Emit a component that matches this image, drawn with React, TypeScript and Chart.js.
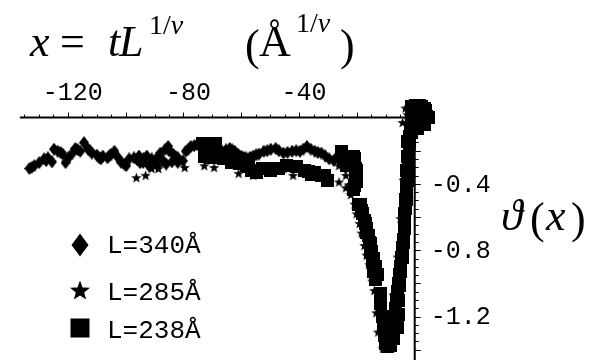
import React, { useEffect, useRef } from "react";
import { Chart, registerables } from "chart.js";

Chart.register(...registerables);

// ---- data (x = t L^{1/nu}, y = theta(x)) ----
const seriesNames = ["L=340Å", "L=285Å", "L=238Å"];
const xTickLabels = [-120, -80, -40];
const yTickLabels = [-0.4, -0.8, -1.2];

const L340: [number, number][] = [
  [-133.3, -0.307], [-132.5, -0.3], [-131.6, -0.29], [-129.9, -0.272], [-128.2, -0.249],
  [-127.5, -0.26], [-126.9, -0.243], [-125.5, -0.267], [-124.8, -0.191], [-123.5, -0.203],
  [-122.5, -0.21], [-121.8, -0.22], [-120.8, -0.272], [-119.8, -0.243], [-118.4, -0.214],
  [-117.4, -0.186], [-116.5, -0.195], [-115.7, -0.203], [-114.4, -0.151], [-113.0, -0.191],
  [-112.3, -0.2], [-111.7, -0.214], [-110.0, -0.226], [-109.3, -0.24], [-108.6, -0.249],
  [-107.9, -0.232], [-106.3, -0.243], [-105.6, -0.23], [-104.9, -0.22], [-103.9, -0.203],
  [-102.7, -0.24], [-101.5, -0.272], [-100.5, -0.28], [-99.8, -0.29], [-98.8, -0.249],
  [-97.1, -0.243], [-96.0, -0.255], [-95.4, -0.232], [-95.0, -0.272], [-94.0, -0.27],
  [-93.8, -0.245], [-92.7, -0.232], [-92.0, -0.29], [-91.0, -0.249], [-90.0, -0.272],
  [-89.0, -0.24], [-89.0, -0.29], [-88.0, -0.214], [-87.0, -0.261], [-86.3, -0.191],
  [-86.0, -0.28], [-85.3, -0.174], [-85.0, -0.2], [-84.0, -0.267], [-83.6, -0.22],
  [-82.7, -0.235], [-82.0, -0.27], [-81.9, -0.243], [-80.2, -0.261], [-79.2, -0.203],
  [-78.3, -0.19], [-77.5, -0.174], [-76.3, -0.17], [-75.2, -0.162], [-74.0, -0.165],
  [-72.8, -0.174], [-71.0, -0.18], [-69.4, -0.186], [-68.0, -0.195], [-66.7, -0.203],
  [-65.3, -0.195], [-64.0, -0.186], [-63.1, -0.195], [-62.3, -0.203], [-61.2, -0.22],
  [-60.0, -0.232], [-59.1, -0.24], [-58.3, -0.243], [-57.0, -0.24], [-55.9, -0.232],
  [-54.9, -0.225], [-53.9, -0.22], [-52.2, -0.203], [-51.0, -0.2], [-49.8, -0.191],
  [-48.1, -0.186], [-47.0, -0.2], [-45.4, -0.214], [-44.0, -0.21], [-42.4, -0.203],
  [-41.0, -0.2], [-39.7, -0.203], [-38.5, -0.19], [-37.3, -0.174], [-36.0, -0.19],
  [-34.6, -0.203], [-33.5, -0.21], [-32.3, -0.214], [-31.0, -0.23], [-29.6, -0.249],
  [-28.0, -0.26], [-27.0, -0.24], [-24.0, -0.3], [-19.0, -0.55], [-15.5, -0.8],
  [-12.5, -1.1], [-9.5, -1.36], [-6.0, -1.05], [-4.0, -0.7], [-2.6, -0.35],
  [-1.0, -0.05], [2.5, 0.03],
];

const L285: [number, number][] = [
  [-96.3, -0.362], [-93.1, -0.348], [-91.0, -0.307], [-88.7, -0.307], [-86.3, -0.272],
  [-79.6, -0.301], [-72.8, -0.29], [-69.4, -0.301], [-60.9, -0.336], [-55.9, -0.348],
  [-45.4, -0.307], [-42.1, -0.348], [-34.6, -0.33], [-30.2, -0.243], [-26.2, -0.29],
  [-26.2, -0.388], [-23.8, -0.423], [-23.8, -0.348], [-22.8, -0.406], [-22.1, -0.464],
  [-20.8, -0.522], [-20.1, -0.58], [-19.1, -0.638], [-18.4, -0.696], [-17.4, -0.771],
  [-16.7, -0.829], [-15.7, -0.887], [-14.7, -0.986], [-14.0, -1.043], [-13.3, -1.177],
  [-12.7, -1.293], [-11.0, -1.391], [-8.6, -1.246], [-7.3, -1.072], [-5.9, -0.841],
  [-4.9, -0.609], [-3.9, -0.377], [-2.9, -0.174], [-4.2, -0.029], [-3.2, 0.058],
  [-2.5, 0.017],
];

const L238: [number, number][] = [
  [-73.5, -0.157], [-69.0, -0.157], [-72.8, -0.174], [-70.8, -0.174], [-72.8, -0.232],
  [-70.8, -0.243], [-71.8, -0.203], [-66.0, -0.249], [-65.4, -0.249], [-62.7, -0.261],
  [-60.6, -0.278], [-63.3, -0.272], [-58.3, -0.29], [-57.6, -0.296], [-55.2, -0.319],
  [-56.6, -0.319], [-54.9, -0.33], [-52.5, -0.307], [-51.2, -0.307], [-49.8, -0.319],
  [-48.5, -0.307], [-47.1, -0.307], [-44.4, -0.29], [-41.0, -0.296], [-38.0, -0.319],
  [-36.7, -0.325], [-35.6, -0.342], [-34.6, -0.33], [-32.3, -0.348], [-31.3, -0.348],
  [-30.2, -0.377], [-25.5, -0.203], [-25.2, -0.203], [-24.5, -0.249], [-23.5, -0.29],
  [-21.1, -0.232], [-20.8, -0.249], [-20.4, -0.307], [-20.1, -0.319], [-20.4, -0.365],
  [-20.1, -0.388], [-20.8, -0.412], [-21.1, -0.435],
  // descending branch
  [-19.4, -0.522], [-18.75, -0.522], [-18.4, -0.562], [-18.07, -0.58], [-17.4, -0.62],
  [-17.06, -0.638], [-16.7, -0.667], [-16.72, -0.696], [-16.0, -0.713], [-15.71, -0.754],
  [-15.4, -0.759], [-15.0, -0.806], [-15.37, -0.812], [-14.4, -0.852], [-14.7, -0.87],
  [-13.7, -0.899], [-14.36, -0.928], [-13.0, -0.945], [-13.7, -0.974], [-12.0, -1.061],
  [-11.99, -1.061], [-11.7, -1.107], [-11.99, -1.119], [-11.3, -1.2], [-10.98, -1.2],
  [-10.6, -1.246], [-10.64, -1.258], [-10.0, -1.293], [-10.3, -1.316], [-9.6, -1.339],
  [-9.97, -1.362], [-9.3, -1.374], [-9.3, -1.386], [-8.6, -1.36], [-8.28, -1.374],
  // rising branch
  [-7.26, -1.333], [-7.9, -1.304], [-7.6, -1.258], [-5.91, -1.264], [-6.9, -1.2],
  [-5.57, -1.188], [-6.6, -1.154], [-6.3, -1.096], [-5.57, -1.101], [-5.9, -1.049],
  [-5.6, -1.003], [-5.24, -1.014], [-5.2, -0.945], [-4.9, -0.928], [-4.9, -0.899],
  [-4.6, -0.841], [-4.22, -0.841], [-4.2, -0.783], [-3.89, -0.754], [-3.9, -0.736],
  [-3.5, -0.667], [-3.55, -0.667], [-3.5, -0.609], [-3.55, -0.58], [-3.2, -0.551],
  [-3.21, -0.493], [-2.9, -0.493], [-2.9, -0.435], [-2.87, -0.406], [-2.5, -0.377],
  [-2.5, -0.319], [-2.87, -0.319], [-2.2, -0.261], [-2.53, -0.232], [-1.9, -0.157],
  [-2.53, -0.145], [-1.9, -0.116], [-1.5, -0.058],
  // cluster near the origin
  [-0.5, -0.017], [0.8, 0.029], [2.2, 0.064], [3.9, 0.041], [4.6, 0.0],
  [3.2, -0.041], [0.8, -0.064], [-1.2, -0.087], [0.2, 0.07], [-1.18, 0.064],
  [1.52, 0.075], [3.55, 0.052], [4.22, 0.006], [3.55, -0.041], [0.84, -0.058],
  [-1.18, -0.052], [-1.18, 0.006], [1.52, 0.012],
];

const X_MIN = -141.05;
const X_MAX = 59.6;
const Y_MIN = -1.42;
const Y_MAX = 0.667;
const X_AXIS_FROM = -136.6;
const X_AXIS_TO = 6.6;

type Kind = "diamond" | "star" | "square";

function drawShape(g: CanvasRenderingContext2D, kind: Kind, cx: number, cy: number, w: number, h: number) {
  g.beginPath();
  if (kind === "diamond") {
    g.moveTo(cx, cy - h / 2);
    g.lineTo(cx + w / 2, cy);
    g.lineTo(cx, cy + h / 2);
    g.lineTo(cx - w / 2, cy);
  } else if (kind === "square") {
    g.rect(cx - w / 2, cy - h / 2, w, h);
  } else {
    const R = w / 2;
    const r = R * 0.42;
    for (let i = 0; i < 10; i++) {
      const a = -Math.PI / 2 + (i * Math.PI) / 5;
      const rr = i % 2 === 0 ? R : r;
      const px = cx + rr * Math.cos(a);
      const py = cy + rr * Math.sin(a) + R * 0.1;
      if (i === 0) g.moveTo(px, py);
      else g.lineTo(px, py);
    }
  }
  g.closePath();
  g.fillStyle = "#000";
  g.fill();
}

function makeMarker(kind: Kind, w: number, h: number): HTMLCanvasElement {
  const c = document.createElement("canvas");
  c.width = w;
  c.height = h;
  const g = c.getContext("2d")!;
  drawShape(g, kind, w / 2, h / 2, w, h);
  return c;
}

const SERIF = '"Liberation Serif", "DejaVu Serif", serif';
const MONO = '"Liberation Mono", "DejaVu Sans Mono", monospace';

const axesPlugin = {
  id: "mmaAxes",
  beforeDatasetsDraw(chart: any) {
    const { ctx, scales } = chart;
    const xs = scales.x;
    const ys = scales.y;
    const y0 = ys.getPixelForValue(0);
    const x0 = xs.getPixelForValue(0);
    ctx.save();
    ctx.strokeStyle = "#000";
    ctx.lineWidth = 2;
    ctx.beginPath();
    ctx.moveTo(xs.getPixelForValue(X_AXIS_FROM), y0);
    ctx.lineTo(xs.getPixelForValue(X_AXIS_TO), y0);
    ctx.stroke();
    ctx.beginPath();
    ctx.moveTo(x0, y0);
    ctx.lineTo(x0, chart.height);
    ctx.stroke();
    ctx.lineWidth = 1;
    ctx.beginPath();
    for (let k = -27; k <= 1; k++) {
      const v = k * 5;
      const px = Math.round(xs.getPixelForValue(v)) + 0.5;
      const major = v % 20 === 0;
      ctx.moveTo(px, y0);
      ctx.lineTo(px, y0 - (major ? 5 : 3));
    }
    for (let k = 1; k <= 28; k++) {
      const v = -k * 0.05;
      const py = Math.round(ys.getPixelForValue(v)) + 0.5;
      const major = k % 4 === 0;
      ctx.moveTo(x0, py);
      ctx.lineTo(x0 + (major ? 6 : 4), py);
    }
    ctx.stroke();
    ctx.fillStyle = "#000";
    ctx.font = `25px ${MONO}`;
    ctx.textAlign = "center";
    ctx.textBaseline = "alphabetic";
    for (const v of xTickLabels) {
      ctx.fillText(String(v), xs.getPixelForValue(v) + 5, 100);
    }
    ctx.textAlign = "left";
    ctx.textBaseline = "middle";
    for (const v of yTickLabels) {
      ctx.fillText(v.toFixed(1), x0 + 16, ys.getPixelForValue(v) + 1);
    }
    ctx.restore();
  },
  afterDraw(chart: any) {
    const { ctx } = chart;
    ctx.save();
    ctx.fillStyle = "#000";
    ctx.textAlign = "left";
    ctx.textBaseline = "alphabetic";
    const big = 44;
    const sup = 28;
    const base = 56;
    const supBase = 34;
    const it = (s: string, x: number, y: number, size: number, italic: boolean) => {
      ctx.font = `${italic ? "italic " : ""}${size}px ${SERIF}`;
      ctx.fillText(s, x, y);
      return ctx.measureText(s).width;
    };
    // x = t L^{1/nu}  (Å^{1/nu})
    it("x", 30, base, big, true);
    it("=", 60, base, big, false);
    it("t", 108, base, big, true);
    it("L", 119, base, big, true);
    let w = it("1/", 149, supBase, sup, false);
    it("ν", 149 + w, supBase, sup, true);
    it("(", 245, base + 4, big, false);
    it("Å", 259, base, big, false);
    w = it("1/", 296, supBase - 2, sup, false);
    it("ν", 296 + w, supBase - 2, sup, true);
    it(")", 340, base + 4, big, false);
    // theta(x)
    const tb = 230;
    it("ϑ", 501, tb, big, true);
    it("(", 530, tb + 3, big, false);
    it("x", 546, tb, big, true);
    it(")", 571, tb + 3, big, false);
    // legend
    drawShape(ctx, "diamond", 80, 245, 17, 23);
    drawShape(ctx, "star", 80, 290, 21, 21);
    drawShape(ctx, "square", 80, 328, 19, 19);
    ctx.font = `26px ${MONO}`;
    ctx.fillStyle = "#000";
    ctx.fillText(seriesNames[0], 107, 253);
    ctx.fillText(seriesNames[1], 107, 300);
    ctx.fillText(seriesNames[2], 107, 338);
    ctx.restore();
  },
};

export default function App() {
  const ref = useRef<HTMLCanvasElement | null>(null);
  useEffect(() => {
    if (!ref.current) return;
    const diamond = makeMarker("diamond", 10, 13);
    const star = makeMarker("star", 11, 11);
    const square = makeMarker("square", 13, 13);
    const toPts = (a: [number, number][]) => a.map(([x, y]) => ({ x, y }));
    const chart = new Chart(ref.current, {
      type: "scatter",
      data: {
        datasets: [
          { label: seriesNames[0], data: toPts(L340), pointStyle: diamond as any, pointRadius: 5, showLine: false },
          { label: seriesNames[1], data: toPts(L285), pointStyle: star as any, pointRadius: 5, showLine: false },
          { label: seriesNames[2], data: toPts(L238), pointStyle: square as any, pointRadius: 6, showLine: false },
        ],
      },
      options: {
        responsive: false,
        maintainAspectRatio: false,
        animation: false,
        devicePixelRatio: 1,
        events: [],
        layout: { padding: 0 },
        plugins: { legend: { display: false }, tooltip: { enabled: false } },
        scales: {
          x: { type: "linear", display: false, min: X_MIN, max: X_MAX },
          y: { type: "linear", display: false, min: Y_MIN, max: Y_MAX },
        },
      },
      plugins: [axesPlugin],
    });
    return () => chart.destroy();
  }, []);
  return (
    <canvas
      ref={ref}
      width={594}
      height={360}
      style={{ position: "absolute", left: 0, top: 0, width: 594, height: 360, background: "#fff" }}
    />
  );
}
